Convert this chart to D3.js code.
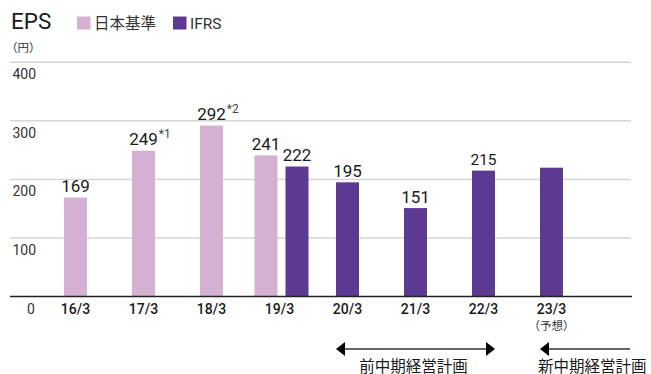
<!DOCTYPE html>
<html>
<head>
<meta charset="utf-8">
<script src="https://cdn.jsdelivr.net/npm/d3@7/dist/d3.min.js"></script>
<style>
  html, body { margin: 0; padding: 0; background: #fff; }
  svg { display: block; font-family: Roboto, "Noto Sans CJK JP", sans-serif; }
</style>
</head>
<body>
<svg id="chart" width="651" height="374"></svg>
<script>
// Fiscal years (March year-end)
const categories = ["16/3", "17/3", "18/3", "19/3", "20/3", "21/3", "22/3", "23/3"];
// EPS (yen) under Japanese GAAP
const jgaapValues = [169, 249, 292, 241, null, null, null, null];
// EPS (yen) under IFRS; 23/3 is a forecast without a printed value
const ifrsValues = [null, null, null, 222, 195, 151, 215, 220];
const ifrsShowLabel = [false, false, false, true, true, true, true, false];
// Footnote markers attached to some values
const jgaapNotes = [null, "*1", "*2", null, null, null, null, null];
const yTicks = [0, 100, 200, 300, 400];
const seriesNames = ["日本基準", "IFRS"];
const forecastNote = "（予想）";
const periodLabels = ["前中期経営計画", "新中期経営計画"];

const COLOR_JGAAP = "#d4b1d3";
const COLOR_IFRS = "#5c3a92";
const TEXT = "#1a1a1a";

const svg = d3.select("#chart");

const x = d3.scaleBand().domain(categories).range([41.5, 585.5]);
const center = c => x(c) + x.bandwidth() / 2;
const barW = 23;
const pair = d3.scaleBand().domain(["jgaap", "ifrs"]).range([-25, 29]).paddingInner(8 / 31);
const y = d3.scaleLinear().domain([0, 400]).range([296.5, 62.3]);

// Title and legend
svg.append("text").attr("x", 11).attr("y", 29).attr("font-size", 22.5).attr("fill", TEXT).text("EPS");
const legend = [
  { name: seriesNames[0], color: COLOR_JGAAP, x: 77 },
  { name: seriesNames[1], color: COLOR_IFRS, x: 173 }
];
legend.forEach(l => {
  svg.append("rect").attr("x", l.x).attr("y", 16.5).attr("width", 13.5).attr("height", 13).attr("fill", l.color);
  svg.append("text").attr("x", l.x + 17).attr("y", 29).attr("font-size", 15.5).attr("fill", "#333").text(l.name);
});
svg.append("text").attr("x", 6).attr("y", 52).attr("font-size", 11.5).attr("fill", "#333").text("（円）");

// Gridlines
svg.append("g").selectAll("line").data(yTicks.filter(v => v > 0)).join("line")
  .attr("x1", 10).attr("x2", 631)
  .attr("y1", d => y(d)).attr("y2", d => y(d))
  .attr("stroke", "#d6d6d6").attr("stroke-width", 1.5);

// Y tick labels (sit under their gridline; zero sits on the category row)
svg.append("g").selectAll("text").data(yTicks).join("text")
  .attr("x", d => d === 0 ? 31 : 12.5)
  .attr("y", d => d === 0 ? 314 : y(d) + 17)
  .attr("text-anchor", d => d === 0 ? "middle" : "start")
  .attr("font-size", 14).attr("fill", "#333")
  .text(d => d);

// Bars
const bars = [];
categories.forEach((c, i) => {
  const both = jgaapValues[i] != null && ifrsValues[i] != null;
  if (jgaapValues[i] != null) {
    const cx = both ? center(c) + pair("jgaap") + pair.bandwidth() / 2 : center(c);
    bars.push({ cx, v: jgaapValues[i], color: COLOR_JGAAP, label: String(jgaapValues[i]), note: jgaapNotes[i], size: 17 });
  }
  if (ifrsValues[i] != null) {
    const cx = both ? center(c) + pair("ifrs") + pair.bandwidth() / 2 : center(c);
    bars.push({ cx, v: ifrsValues[i], color: COLOR_IFRS, label: ifrsShowLabel[i] ? String(ifrsValues[i]) : null, note: null, size: c === "22/3" ? 15.5 : 17 });
  }
});

svg.append("g").selectAll("rect").data(bars).join("rect")
  .attr("x", d => d.cx - barW / 2).attr("width", barW)
  .attr("y", d => y(d.v)).attr("height", d => y(0) - y(d.v))
  .attr("fill", d => d.color);

// Value labels
const labelled = bars.filter(d => d.label);
const vl = svg.append("g").selectAll("text").data(labelled).join("text")
  .attr("x", d => d.cx).attr("y", d => y(d.v) - 5.5)
  .attr("text-anchor", "middle").attr("font-size", d => d.size).attr("fill", TEXT)
  .text(d => d.label);
vl.each(function(d) {
  if (!d.note) return;
  const w = this.getComputedTextLength();
  svg.append("text")
    .attr("x", d.cx + w / 2 + 1).attr("y", y(d.v) - 13)
    .attr("font-size", 12).attr("fill", "#444")
    .text(d.note);
});

// Baseline
svg.append("line").attr("x1", 10).attr("x2", 632).attr("y1", y(0)).attr("y2", y(0))
  .attr("stroke", "#222").attr("stroke-width", 1.5);

// Category labels
svg.append("g").selectAll("text").data(categories).join("text")
  .attr("x", d => center(d)).attr("y", 314)
  .attr("text-anchor", "middle").attr("font-size", 14).attr("font-weight", 500).attr("fill", TEXT)
  .text(d => d);
svg.append("text").attr("x", center("23/3")).attr("y", 329.5)
  .attr("text-anchor", "middle").attr("font-size", 11.5).attr("fill", "#333")
  .text(forecastNote);

// Plan-period arrows
const arrowY = 349;
function arrowHead(tipX, dir) {
  const w = 9, h = 7;
  svg.append("path")
    .attr("d", `M${tipX},${arrowY} L${tipX + dir * w},${arrowY - h} L${tipX + dir * w},${arrowY + h} Z`)
    .attr("fill", "#000");
}
const p1Left = center("20/3") - barW / 2;
const p1Right = center("22/3") + barW / 2;
svg.append("line").attr("x1", p1Left + 4).attr("x2", p1Right - 4).attr("y1", arrowY).attr("y2", arrowY)
  .attr("stroke", "#666").attr("stroke-width", 2);
arrowHead(p1Left, 1);
arrowHead(p1Right, -1);
svg.append("text").attr("x", center("21/3") - 2).attr("y", 371.5)
  .attr("text-anchor", "middle").attr("font-size", 15.5).attr("fill", TEXT).text(periodLabels[0]);

const p2Left = center("23/3") - barW / 2;
svg.append("line").attr("x1", p2Left + 4).attr("x2", 630).attr("y1", arrowY).attr("y2", arrowY)
  .attr("stroke", "#666").attr("stroke-width", 2);
arrowHead(p2Left, 1);
svg.append("text").attr("x", p2Left - 2).attr("y", 371.5)
  .attr("font-size", 15.5).attr("fill", TEXT).text(periodLabels[1]);
</script>
</body>
</html>
